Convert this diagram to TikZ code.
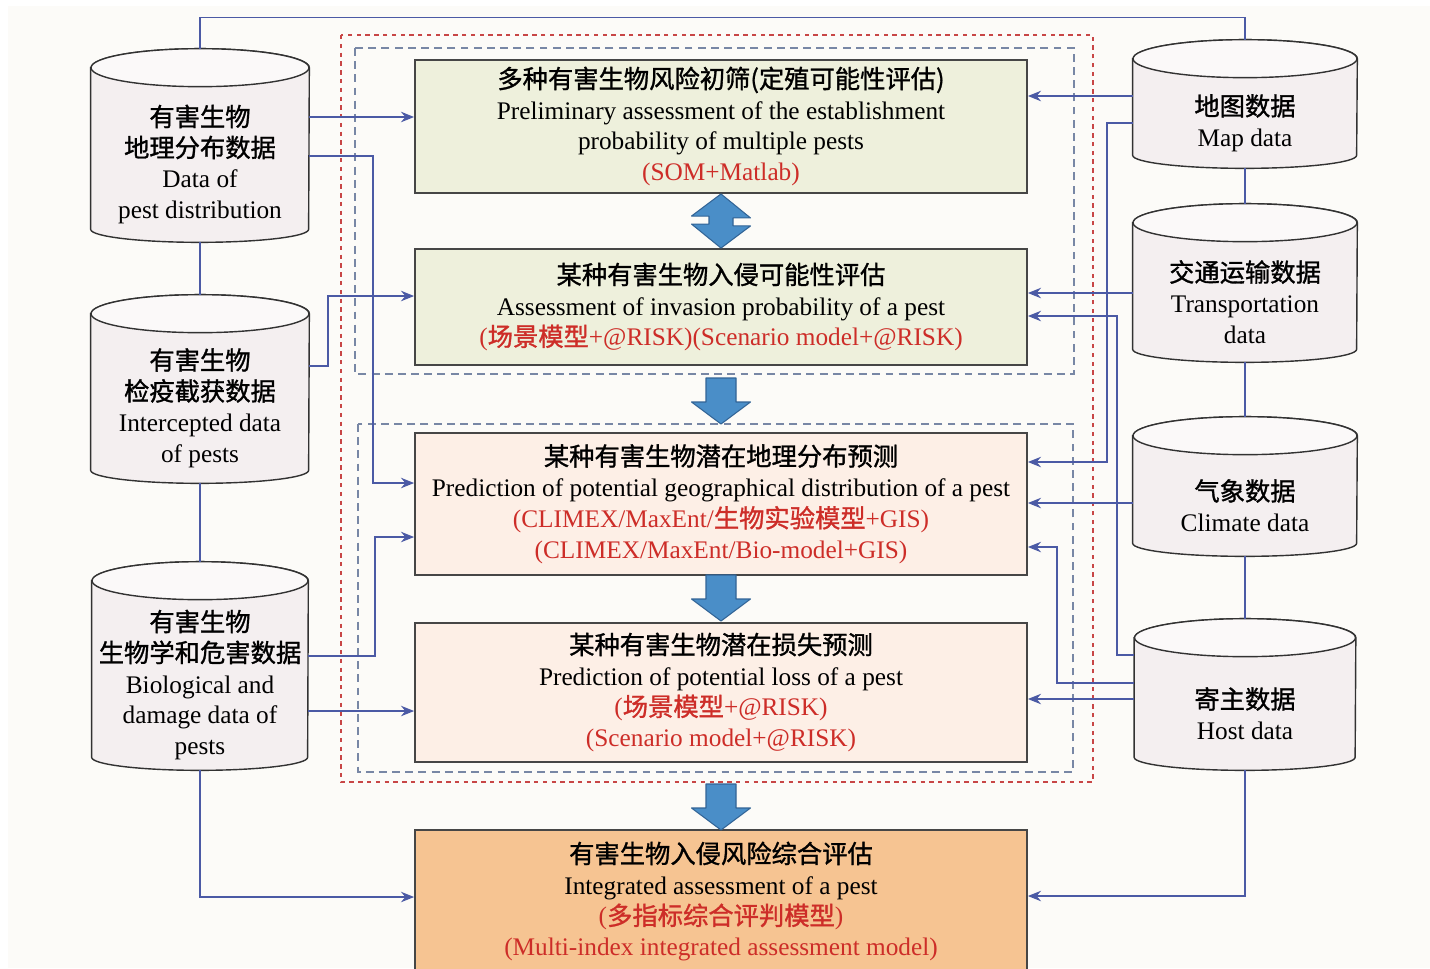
\documentclass[tikz,border=0pt]{standalone}
\usepackage{fontspec}
\setmainfont{Liberation Serif}
\newfontfamily\cjk{Noto Sans CJK SC}[FakeBold=1.2]
\usetikzlibrary{arrows.meta,calc,backgrounds}

\definecolor{paper}{RGB}{252,251,248}
\definecolor{boxline}{RGB}{70,70,70}
\definecolor{boxgreen}{RGB}{238,240,220}
\definecolor{boxpink}{RGB}{253,239,230}
\definecolor{boxorange}{RGB}{246,196,146}
\definecolor{linkblue}{RGB}{75,90,165}
\definecolor{fatblue}{RGB}{74,142,200}
\definecolor{fatline}{RGB}{50,100,150}
\definecolor{riskred}{RGB}{205,45,40}
\definecolor{cylline}{RGB}{50,50,50}
\definecolor{cylbody}{RGB}{244,239,240}
\definecolor{cyltop}{RGB}{251,249,249}
\definecolor{frameblue}{RGB}{120,135,165}
\definecolor{framered}{RGB}{200,70,70}

\begin{document}
\begin{tikzpicture}[x=0.02cm,y=-0.02cm,>={Stealth[length=7.5pt,width=6pt,inset=2.5pt]},
                    font=\fontsize{14.4pt}{17.6pt}\selectfont]
  \tikzstyle{task}=[draw=boxline,line width=1.1pt,align=center,inner sep=0pt,
                    minimum width=12.24cm]
  \tikzstyle{store}=[align=center,inner sep=0pt]
  \tikzstyle{link}=[->,color=linkblue,line width=0.8pt]
  \tikzstyle{storelink}=[draw=linkblue,line width=0.8pt]
  \tikzstyle{fat}=[fill=fatblue,draw=fatline,line width=0.6pt,line join=round]
  \tikzstyle{cyl}=[fill=cylbody,draw=cylline,line width=0.8pt]
  \tikzstyle{blueframe}=[draw=frameblue,line width=0.9pt,dash pattern=on 4.5pt off 3pt]
  \tikzstyle{redframe}=[draw=framered,line width=0.9pt,dash pattern=on 2.5pt off 2.5pt]

  \useasboundingbox (0,0) rectangle (1430,968);
  \begin{scope}[on background layer]
    \fill[white] (0,0) rectangle (1430,968);
    \fill[paper] (8,6) rectangle (1430,968);
  \end{scope}

  % assessment steps
  \node[task,fill=boxgreen,minimum height=2.66cm] (b1) at (721,126.5)
    {{\cjk 多种有害生物风险初筛(定殖可能性评估)}\\
     Preliminary assessment of the establishment\\
     probability of multiple pests\\
     \textcolor{riskred}{(SOM+Matlab)}};
  \node[task,fill=boxgreen,minimum height=2.32cm] (b2) at (721,307)
    {{\cjk 某种有害生物入侵可能性评估}\\
     Assessment of invasion probability of a pest\\
     \textcolor{riskred}{({\cjk 场景模型}+@RISK)(Scenario model+@RISK)}};
  \node[task,fill=boxpink,minimum height=2.84cm] (b3) at (721,504)
    {{\cjk 某种有害生物潜在地理分布预测}\\
     Prediction of potential geographical distribution of a pest\\
     \textcolor{riskred}{(CLIMEX/MaxEnt/{\cjk 生物实验模型}+GIS)}\\
     \textcolor{riskred}{(CLIMEX/MaxEnt/Bio-model+GIS)}};
  \node[task,fill=boxpink,minimum height=2.78cm] (b4) at (721,692.5)
    {{\cjk 某种有害生物潜在损失预测}\\
     Prediction of potential loss of a pest\\
     \textcolor{riskred}{({\cjk 场景模型}+@RISK)}\\
     \textcolor{riskred}{(Scenario model+@RISK)}};
  \node[task,fill=boxorange,minimum height=2.86cm] (b5) at (721,901.5)
    {{\cjk 有害生物入侵风险综合评估}\\
     Integrated assessment of a pest\\
     \textcolor{riskred}{({\cjk 多指标综合评判模型})}\\
     \textcolor{riskred}{(Multi-index integrated assessment model)}};

  % data stores
  \node[store,minimum width=4.36cm,minimum height=3.1cm] (pd) at (200,164.5)
    {{\cjk 有害生物}\\{\cjk 地理分布数据}\\Data of\\pest distribution};
  \node[store,minimum width=4.36cm,minimum height=3.0cm] (ic) at (200,408)
    {{\cjk 有害生物}\\{\cjk 检疫截获数据}\\Intercepted data\\of pests};
  \node[store,minimum width=4.32cm,minimum height=3.4cm] (bd) at (200,685)
    {{\cjk 有害生物}\\{\cjk 生物学和危害数据}\\Biological and\\damage data of\\pests};
  \node[store,minimum width=4.48cm,minimum height=1.8cm] (map) at (1245,123)
    {{\cjk 地图数据}\\Map data};
  \node[store,minimum width=4.48cm,minimum height=2.4cm] (tr) at (1245,302)
    {{\cjk 交通运输数据}\\Transportation\\data};
  \node[store,minimum width=4.48cm,minimum height=2.02cm] (cl) at (1245,505.5)
    {{\cjk 气象数据}\\Climate data};
  \node[store,minimum width=4.42cm,minimum height=2.26cm] (ho) at (1245,713.5)
    {{\cjk 寄主数据}\\Host data};

  \begin{scope}[on background layer]
    \foreach \n/\rad in {pd/2.18,ic/2.18,bd/2.16,map/2.24,tr/2.24,cl/2.24,ho/2.21}{
      \filldraw[cyl] ($(\n.north west)+(0,-19)$) -- ($(\n.south west)+(0,-13)$)
        arc[start angle=180,end angle=360,x radius=\rad cm,y radius=0.26cm]
        -- ($(\n.north east)+(0,-19)$)
        arc[start angle=0,end angle=180,x radius=\rad cm,y radius=0.38cm] -- cycle;
      \filldraw[cyl,fill=cyltop] ($(\n.north)+(0,-19)$) ellipse[x radius=\rad cm,y radius=0.38cm];
    }
  \end{scope}

  % frames
  \draw[redframe] (341,35) rectangle (1093,782);
  \draw[blueframe] (355,48) rectangle (1074,374);
  \draw[blueframe] (358,424) rectangle (1073,772);

  % block arrows
  \filldraw[fat] (b1.south) -- ++(29.5,24) -- ++(-17.5,0) -- ++(0,8) -- ++(17.5,0)
    -- (b2.north) -- ++(-29.5,-24) -- ++(17.5,0) -- ++(0,-8) -- ++(-17.5,0) -- cycle;
  \foreach \tip in {424,621,830}
    \filldraw[fat] (b3.north |- 0,\tip) -- ++(-29.5,-22) -- ++(14.5,0) -- ++(0,-24)
      -- ++(30,0) -- ++(0,24) -- ++(14.5,0) -- cycle;

  % store links
  \draw[storelink] (pd.south) -- ($(ic.north)+(0,-38)$);
  \draw[storelink] (ic.south) -- ($(bd.north)+(0,-38)$);
  \draw[storelink] (map.south) -- ($(tr.north)+(0,-38)$);
  \draw[storelink] (tr.south) -- ($(cl.north)+(0,-38)$);
  \draw[storelink] (cl.south) -- ($(ho.north)+(0,-38)$);
  \draw[storelink] ($(pd.north)+(0,-38)$) -- ++(0,-31) -| ($(map.north)+(0,-38)$);

  % data flow
  \path[link] (pd.east |- 0,117) edge (b1.west |- 0,117)
              (bd.east |- 0,711) edge (b4.west |- 0,711)
              (map.west |- 0,96) edge (b1.east |- 0,96)
              (tr.west |- 0,293) edge (b2.east |- 0,293)
              (cl.west |- 0,503) edge (b3.east |- 0,503)
              (ho.west |- 0,699) edge (b4.east |- 0,699);
  \draw[link] (pd.east |- 0,156) -| (373,483) -- (b3.west |- 0,483);
  \draw[link] (ic.east |- 0,366) -| (328,296) -- (b2.west |- 0,296);
  \draw[link] (bd.east |- 0,656) -| (375,537) -- (b3.west |- 0,537);
  \draw[link] (bd.south) |- (b5.west |- 0,897);
  \draw[link] (map.west |- 0,123) -| (1107,462) -- (b3.east |- 0,462);
  \draw[link] (ho.west |- 0,655) -| (1117,316) -- (b2.east |- 0,316);
  \draw[link] (ho.west |- 0,683) -| (1057,547) -- (b3.east |- 0,547);
  \draw[link] (ho.south) |- (b5.east |- 0,896);
\end{tikzpicture}
\end{document}
